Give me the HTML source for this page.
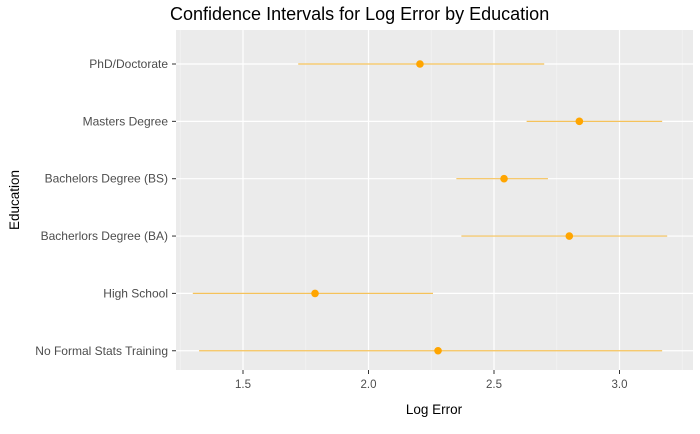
<!DOCTYPE html>
<html><head><meta charset="utf-8"><style>
body{margin:0;background:#fff;font-family:"Liberation Sans",sans-serif}
svg text{font-family:"Liberation Sans",sans-serif}
</style></head><body>
<svg id="chart" width="700" height="429" xmlns="http://www.w3.org/2000/svg">
<text x="170" y="20" font-size="18" fill="#000">Confidence Intervals for Log Error by Education</text>
<rect x="176" y="30" width="517" height="340" fill="#ebebeb"/>
<g id="grid"></g><g id="marks"></g><g id="axes"></g>
<text x="434" y="414" font-size="13.5" text-anchor="middle" fill="#000">Log Error</text>
<text transform="translate(19,200) rotate(-90)" font-size="13.5" text-anchor="middle" fill="#000">Education</text>
</svg>
<script>
const categories=["PhD/Doctorate","Masters Degree","Bachelors Degree (BS)","Bacherlors Degree (BA)","High School","No Formal Stats Training"];
const lowVals=[1.72,2.63,2.35,2.37,1.30,1.325];
const estVals=[2.205,2.84,2.54,2.80,1.787,2.277];
const highVals=[2.70,3.17,2.715,3.19,2.257,3.17];
const xTicks=[1.5,2.0,2.5,3.0];
const xTickLabels=["1.5","2.0","2.5","3.0"];
const NS="http://www.w3.org/2000/svg";
const x=v=>243+(v-1.5)*251;
const y=i=>64+i*57.35;
function mk(tag,attrs,parent,text){const e=document.createElementNS(NS,tag);for(const k in attrs)e.setAttribute(k,attrs[k]);if(text!==undefined)e.textContent=text;document.getElementById(parent).appendChild(e);return e;}
xTicks.forEach((t,i)=>{
  const m=mk('line',{x1:x(t-0.25),x2:x(t-0.25),y1:30,y2:370,stroke:'#f5f5f5','stroke-width':0.6},'grid');
  
  
  const g=mk('line',{x1:x(t),x2:x(t),y1:30,y2:370,stroke:'#fff','stroke-width':1.2},'grid');
  
  
  const tk=mk('line',{x1:x(t),x2:x(t),y1:370,y2:374,stroke:'#333'},'axes');
  
  
  const tl=mk('text',{x:x(t),y:388,'font-size':11.5,'text-anchor':'middle',fill:'#4d4d4d'},'axes',xTickLabels[i]);
  
  
});
{const m=mk('line',{x1:x(3.25),x2:x(3.25),y1:30,y2:370,stroke:'#f5f5f5','stroke-width':0.6},'grid');

}
categories.forEach((c,i)=>{
  const g=mk('line',{x1:176,x2:693,y1:y(i),y2:y(i),stroke:'#fff','stroke-width':1.2},'grid');
  
  
  const tk=mk('line',{x1:172,x2:176,y1:y(i),y2:y(i),stroke:'#333'},'axes');
  
  
  const tl=mk('text',{x:168,y:y(i)+4,'font-size':12,'text-anchor':'end',fill:'#4d4d4d'},'axes',c);
  
  
  const ci=mk('line',{x1:x(lowVals[i]),x2:x(highVals[i]),y1:y(i),y2:y(i),stroke:'#f5c25a','stroke-width':1.2},'marks');
  
  
  const p=mk('circle',{cx:x(estVals[i]),cy:y(i),r:3.8,fill:'#ffa500'},'marks');
  
  
});
</script>
</body></html>
